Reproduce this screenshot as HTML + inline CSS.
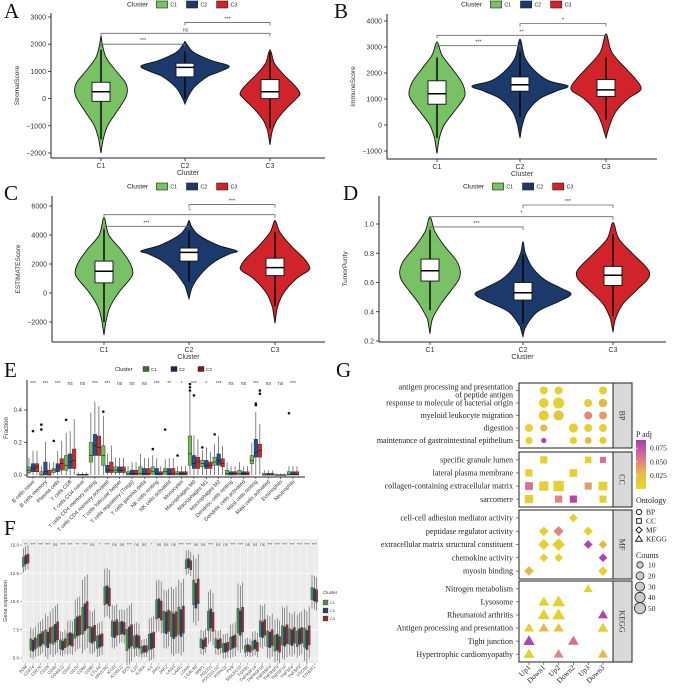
<!DOCTYPE html>
<html><head><meta charset="utf-8">
<style>
body{margin:0;background:#fff}
svg{display:block}
text{font-family:"Liberation Sans",sans-serif}
.serif{font-family:"Liberation Serif",serif}
</style></head>
<body>
<svg id="fig" width="676" height="693" viewBox="0 0 676 693"></svg>
<script>
// ---------- DATA ----------
const clusters=['C1','C2','C3'];
// Panel A StromalScore
const stromalVals=[[-2000,-1500,-1000,-500,0,300,600,1000,1500,2000,2300],[-200,0,400,800,1000,1200,1400,1700,2000,2100],[-1700,-1200,-800,-400,0,200,500,900,1300,1800]];
const stromalWidths=[[0,0.05,0.15,0.35,0.55,0.6,0.55,0.35,0.12,0.03,0],[0,0.05,0.2,0.5,0.8,1.0,0.6,0.2,0.04,0],[0,0.05,0.15,0.35,0.6,0.68,0.55,0.3,0.1,0]];
const stromalBox=[[-100,250,600,-1500,1800],[800,1150,1300,0,1750],[0,250,700,-1100,1700]];
const stromalSig=['***','ns','***'];
const stromalSigY=[2000,2400,2800];
// Panel B ImmuneScore
const immuneVals=[[-1100,-500,0,500,1000,1300,1700,2200,2700,3200],[-500,0,500,1000,1300,1500,1700,2100,2600,3300],[-500,0,500,1000,1300,1500,1800,2200,2800,3500]];
const immuneWidths=[[0,0.05,0.15,0.35,0.55,0.58,0.5,0.3,0.1,0],[0,0.05,0.15,0.4,0.75,1.0,0.6,0.3,0.1,0],[0,0.08,0.2,0.45,0.7,0.72,0.6,0.4,0.12,0]];
const immuneBox=[[800,1200,1700,-500,2600],[1300,1550,1850,300,2800],[1100,1350,1750,200,2600]];
const immuneSig=['***','**','*'];
const immuneSigY=[3050,3450,3900];
// Panel C ESTIMATEScore
const estimateVals=[[-2900,-2000,-1000,0,1000,1500,2200,3000,4000,5200],[-400,500,1500,2200,2700,2900,3300,4000,4600,5000],[-2100,-1000,0,1000,1500,1800,2400,3200,4200,5000]];
const estimateWidths=[[0,0.04,0.12,0.3,0.55,0.6,0.52,0.35,0.1,0],[0,0.08,0.3,0.55,0.85,1.0,0.6,0.2,0.05,0],[0,0.05,0.18,0.45,0.68,0.72,0.6,0.35,0.1,0]];
const estimateBox=[[700,1500,2200,-2000,4400],[2200,2800,3100,800,4300],[1200,1750,2400,-900,4200]];
const estimateSig=['***','*','***'];
const estimateSigY=[4600,5400,6100];
// Panel D TumorPurity
const purityVals=[[0.25,0.35,0.45,0.55,0.62,0.68,0.75,0.85,0.95,1.05],[0.23,0.3,0.4,0.47,0.52,0.56,0.62,0.7,0.8,0.88],[0.26,0.35,0.45,0.55,0.62,0.67,0.72,0.8,0.9,1.01]];
const purityWidths=[[0,0.05,0.22,0.45,0.6,0.63,0.55,0.3,0.1,0],[0,0.06,0.3,0.75,1.0,0.8,0.45,0.2,0.05,0],[0,0.05,0.2,0.5,0.72,0.76,0.65,0.4,0.12,0]];
const purityBox=[[0.61,0.68,0.76,0.41,0.96],[0.48,0.53,0.6,0.32,0.79],[0.58,0.65,0.71,0.37,0.93]];
const puritySig=['***','*','***'];
const puritySigY=[0.98,1.05,1.13];
// Panel E CIBERSORT fractions
const eCats=['B cells naive','B cells memory','Plasma cells','T cells CD8','T cells CD4 naive','T cells CD4 memory resting','T cells CD4 memory activated','T cells follicular helper','T cells regulatory (Tregs)','T cells gamma delta','NK cells resting','NK cells activated','Monocytes','Macrophages M0','Macrophages M1','Macrophages M2','Dendritic cells resting','Dendritic cells activated','Mast cells resting','Mast cells activated','Eosinophils','Neutrophils'];
const eSig=['***','***','***','ns','ns','***','***','ns','ns','ns','***','**','*','***','*','***','ns','ns','***','ns','ns','***'];
const eMedC1=[.03,.0,.03,.06,.0,.12,.12,.03,.01,.01,.02,.02,.01,.13,.07,.08,.01,.01,.09,.0,.0,.005];
const eMedC2=[.04,.02,.05,.08,.0,.18,.03,.03,.01,.01,.01,.01,.01,.07,.06,.09,.01,.01,.14,.0,.0,.005];
const eMedC3=[.05,.0,.07,.09,.0,.17,.03,.03,.01,.01,.01,.01,.01,.08,.06,.07,.01,.01,.15,.0,.0,.005];
const eQ1C1=[.015,0,.015,.03,0,.08,.06,.015,0,0,.005,.005,0,.06,.05,.06,0,0,.07,0,0,0];
const eQ1C2=[.02,0,.02,.04,0,.12,.015,.015,0,0,0,0,0,.04,.04,.06,0,0,.11,0,0,0];
const eQ1C3=[.02,0,.03,.04,0,.12,.015,.015,0,0,0,0,0,.04,.04,.05,0,0,.11,0,0,0];
const eQ3C1=[.05,.02,.04,.12,.005,.2,.18,.05,.02,.05,.05,.04,.02,.24,.09,.11,.03,.03,.12,.01,.002,.02];
const eQ3C2=[.07,.08,.07,.13,.005,.25,.06,.05,.03,.04,.04,.04,.02,.12,.09,.13,.02,.02,.22,.01,.002,.02];
const eQ3C3=[.07,.03,.1,.16,.005,.24,.08,.05,.03,.04,.02,.04,.02,.11,.08,.1,.02,.02,.19,.01,.002,.02];
const eOutCat=[1,1,3,6,11,13,13,13,13,14,15,18,18,18,18,21,0,2,10,12];
const eOutCl=[0,0,0,0,0,0,0,0,1,0,0,1,1,2,2,0,1,0,0,0];
const eOutVal=[.31,.28,.34,.39,.28,.56,.54,.52,.49,.17,.25,.43,.44,.52,.5,.38,.27,.21,.16,.12];
// Panel F gene expression
const fGenes=['B2M','CD274','CD276','CD28','CD40','CD40LG','CD47','CD70','CD80','CD86','CTLA4','HAVCR2','ICOS','ICOSLG','IDO1','IL10','IL2RA','IL6','JAK1','JAK2','LAG3','LAIR1','LDHA','LGALS9','NRP1','PDCD1','PDCD1LG2','PTPN11','PVR','SIGLEC15','TGFB1','TNFRSF14','TNFRSF18','TNFRSF4','TNFRSF9','TNFSF14','TNFSF4','TNFSF9','VTCN1','YTHDF1'];
const fSig=['**','***','***','***','ns','***','***','**','***','ns','*','***','ns','ns','***','ns','ns','*','ns','ns','ns','***','***','ns','ns','***','ns','ns','***','***','ns','ns','ns','***','***','***','***','***','***','***'];
const fMedC1=[13.5,6.2,6.5,6.8,7.0,6.2,6.6,7.6,8.3,7.1,6.4,10.5,7.6,7.6,6.6,6.4,5.7,6.4,9.3,8.2,8.0,8.3,13.3,10.8,6.3,8.3,6.3,5.9,6.3,8.3,5.8,6.1,7.6,6.7,6.3,7.0,6.9,6.7,6.8,10.7];
const fMedC2=[13.7,6.1,6.6,6.6,7.2,6.1,6.7,7.8,8.6,7.0,6.5,10.6,7.5,7.7,6.8,6.5,5.8,6.5,9.4,8.1,7.8,8.1,13.4,10.5,6.2,8.5,6.2,5.9,6.4,8.1,5.9,6.2,7.5,6.6,6.4,6.9,6.8,6.9,6.6,10.6];
const fMedC3=[13.8,6.3,6.8,7.0,7.4,6.3,6.6,7.9,8.8,7.2,6.6,10.4,7.7,7.6,7.0,6.4,5.8,6.6,9.2,8.3,8.0,8.4,13.2,10.9,6.4,8.2,6.3,6.0,6.5,8.4,5.8,6.0,7.7,6.8,6.2,7.1,7.0,7.0,7.0,10.5];
const fIqr=[0.4,0.5,0.55,0.7,0.8,0.4,0.55,0.85,1.2,0.7,0.55,0.8,0.7,0.55,0.95,0.55,0.3,0.7,0.85,0.95,1.1,1.2,0.4,1.1,0.4,0.85,0.4,0.4,0.55,1.1,0.3,0.4,0.7,0.7,0.7,0.85,0.7,0.7,0.85,0.55];
// Panel G enrichment
const gTerms=['antigen processing and presentation|of peptide antigen','response to molecule of bacterial origin','myeloid leukocyte migration','digestion','maintenance of gastrointestinal epithelium','specific granule lumen','lateral plasma membrane','collagen-containing extracellular matrix','sarcomere','cell-cell adhesion mediator activity','peptidase regulator activity','extracellular matrix structural constituent','chemokine activity','myosin binding','Nitrogen metabolism','Lysosome','Rheumatoid arthritis','Antigen processing and presentation','Tight junction','Hypertrophic cardiomyopathy'];
const gOnt=['BP','BP','BP','BP','BP','CC','CC','CC','CC','MF','MF','MF','MF','MF','KEGG','KEGG','KEGG','KEGG','KEGG','KEGG'];
const gCols=['Up1','Down1','Up2','Down2','Up3','Down3'];
const gDotRow=[0,0,0,1,1,1,1,2,2,2,2,3,3,3,3,3,4,4,4,4,4,5,5,5,6,6,7,7,7,7,7,8,8,8,8,9,10,10,10,11,11,11,11,12,12,12,13,13,14,15,15,16,16,16,17,17,17,17,18,18,19,19,19];
const gDotCol=[1,2,5,1,2,4,5,1,2,4,5,0,1,3,4,5,0,1,3,4,5,1,4,5,0,3,0,1,2,4,5,0,2,3,5,3,1,2,4,1,2,4,5,1,2,5,0,5,4,1,2,1,2,5,0,1,2,5,0,3,0,2,5];
const gDotCount=[20,20,20,35,50,20,25,40,40,20,20,20,15,30,20,20,15,5,15,12,15,20,15,12,20,25,25,40,55,20,35,30,20,20,20,15,20,25,20,30,45,15,15,15,15,15,20,20,15,25,40,35,40,20,20,20,20,25,30,25,25,20,20];
const gDotPadj=[.01,.01,.01,.01,.01,.015,.03,.01,.02,.05,.04,.01,.03,.01,.01,.01,.01,.085,.01,.03,.01,.01,.01,.06,.01,.01,.06,.01,.01,.04,.01,.01,.05,.085,.01,.01,.01,.05,.01,.01,.01,.085,.03,.01,.01,.085,.03,.01,.01,.01,.01,.01,.01,.085,.01,.03,.02,.01,.085,.06,.01,.05,.03];
const gLegendCounts=[10,20,30,40,50];
const gPadjTicks=[0.025,0.05,0.075];

// ---------- HELPERS ----------
const NS='http://www.w3.org/2000/svg';
const svg=document.getElementById('fig');
function mk(parent,tag,attrs,name){
  const el=document.createElementNS(NS,tag);
  for(const k in attrs) el.setAttribute(k,attrs[k]);
  
  
  parent.appendChild(el);return el;
}
function txt(parent,x,y,s,size,name,extra){
  const a=Object.assign({x:x,y:y,'font-size':size,fill:'#222'},extra||{});
  const t=mk(parent,'text',a,name);t.textContent=s;return t;
}
function lin(d0,d1,r0,r1){return v=>r0+(v-d0)*(r1-r0)/(d1-d0);}
function smooth(p){
  let d=`M${p[0][0]},${p[0][1]}`;
  for(let i=0;i<p.length-1;i++){
    const p0=p[i-1]||p[i],p1=p[i],p2=p[i+1],p3=p[i+2]||p[i+1];
    d+=` C${p1[0]+(p2[0]-p0[0])/6},${p1[1]+(p2[1]-p0[1])/6} ${p2[0]-(p3[0]-p1[0])/6},${p2[1]-(p3[1]-p1[1])/6} ${p2[0]},${p2[1]}`;
  }
  return d+'Z';
}
const vCol=['#78c165','#1b3a6b','#d1232a'];

function clusterLegend(x,y,sz,cols){
  const g=mk(svg,'g',{},'cluster-legend');
  txt(g,x,y+sz*0.8,'Cluster',sz*0.95,'legend-title');
  let cx=x+sz*4.2;
  for(let i=0;i<3;i++){
    mk(g,'rect',{x:cx,y:y,width:sz*1.6,height:sz,fill:cols[i],stroke:'#222','stroke-width':0.6},'legend-key-'+clusters[i]);
    txt(g,cx+sz*2,y+sz*0.8,clusters[i],sz*0.75,'legend-label-'+clusters[i]);
    cx+=sz*4.3;
  }
}

function violinPanel(cfg){
  const g=mk(svg,'g',{},cfg.name);
  const ys=lin(cfg.d0,cfg.d1,cfg.r0,cfg.r1);
  txt(g,cfg.letterX,cfg.letterY,cfg.letter,21,'panel-letter',{class:'serif',fill:'#111'});
  clusterLegend(cfg.legX,cfg.legY,7,vCol);
  mk(g,'line',{x1:cfg.ax,y1:cfg.top,x2:cfg.ax,y2:cfg.base,stroke:'#222','stroke-width':1},'y-axis');
  mk(g,'line',{x1:cfg.ax,y1:cfg.base,x2:cfg.xEnd,y2:cfg.base,stroke:'#222','stroke-width':1},'x-axis');
  cfg.ticks.forEach(t=>{
    const y=ys(t);
    mk(g,'line',{x1:cfg.ax-3,y1:y,x2:cfg.ax,y2:y,stroke:'#222','stroke-width':0.8},'y-tick');
    txt(g,cfg.ax-5,y+2.5,cfg.tickFmt(t),7,'y-tick-label',{'text-anchor':'end',fill:'#333'});
  });
  txt(g,0,0,cfg.ylab,6.5,'y-axis-title',{'text-anchor':'middle',transform:`translate(${cfg.ax-32},${(cfg.top+cfg.base)/2}) rotate(-90)`,fill:'#333'});
  clusters.forEach((c,i)=>{
    const x=cfg.cx[i];
    mk(g,'line',{x1:x,y1:cfg.base,x2:x,y2:cfg.base+3,stroke:'#222','stroke-width':0.8},'x-tick');
    txt(g,x,cfg.base+10,c,7,'x-tick-label',{'text-anchor':'middle',fill:'#333'});
    const vals=cfg.vals[i],w=cfg.widths[i];
    const right=vals.map((v,k)=>[x+w[k]*cfg.maxHalf,ys(v)]);
    const left=vals.map((v,k)=>[x-w[k]*cfg.maxHalf,ys(v)]).reverse().slice(1,-1);
    mk(g,'path',{d:smooth(right.concat(left)),fill:vCol[i],stroke:'#111','stroke-width':0.9},'violin-'+c);
    const b=cfg.box[i];
    mk(g,'line',{x1:x,y1:ys(b[3]),x2:x,y2:ys(b[4]),stroke:'#000','stroke-width':1.4},'whisker-'+c);
    mk(g,'rect',{x:x-9,y:ys(b[2]),width:18,height:ys(b[0])-ys(b[2]),fill:'#fff',stroke:'#111','stroke-width':0.9},'box-'+c);
    mk(g,'line',{x1:x-9,y1:ys(b[1]),x2:x+9,y2:ys(b[1]),stroke:'#000','stroke-width':1.5},'median-'+c);
  });
  txt(g,(cfg.ax+cfg.xEnd)/2,cfg.base+17,'Cluster',7,'x-axis-title',{'text-anchor':'middle',fill:'#333'});
  const pairs=[[0,1],[0,2],[1,2]];
  pairs.forEach((p,k)=>{
    const y=ys(cfg.sigY[k]),x1=cfg.cx[p[0]],x2=cfg.cx[p[1]];
    mk(g,'path',{d:`M${x1},${y+3}V${y}H${x2}V${y+3}`,fill:'none',stroke:'#666','stroke-width':0.8},'sig-bracket');
    txt(g,(x1+x2)/2,y-2,cfg.sig[k],5.5,'sig-label',{'text-anchor':'middle',fill:'#444'});
  });
}

violinPanel({name:'panel-a-stromal',letter:'A',letterX:4,letterY:18,legX:127,legY:1,ax:51,top:13,base:158,xEnd:325,d0:3000,d1:-2000,r0:17,r1:153,ticks:[3000,2000,1000,0,-1000,-2000],tickFmt:v=>String(v).replace('-','−'),ylab:'StromalScore',cx:[101,185,270],maxHalf:44,vals:stromalVals,widths:stromalWidths,box:stromalBox,sig:stromalSig,sigY:stromalSigY});
violinPanel({name:'panel-b-immune',letter:'B',letterX:334,letterY:18,legX:461,legY:1,ax:387,top:14,base:159,xEnd:657,d0:4000,d1:-1000,r0:21,r1:151,ticks:[4000,3000,2000,1000,0,-1000],tickFmt:v=>String(v).replace('-','−'),ylab:'ImmuneScore',cx:[437,520,606],maxHalf:48,vals:immuneVals,widths:immuneWidths,box:immuneBox,sig:immuneSig,sigY:immuneSigY});
violinPanel({name:'panel-c-estimate',letter:'C',letterX:4,letterY:200,legX:127,legY:183,ax:52,top:196,base:342,xEnd:325,d0:6000,d1:-2000,r0:206,r1:322,ticks:[6000,4000,2000,0,-2000],tickFmt:v=>String(v).replace('-','−'),ylab:'ESTIMATEScore',cx:[104,189,275],maxHalf:48,vals:estimateVals,widths:estimateWidths,box:estimateBox,sig:estimateSig,sigY:estimateSigY});
violinPanel({name:'panel-d-purity',letter:'D',letterX:343,letterY:200,legX:463,legY:183,ax:379,top:196,base:342,xEnd:666,d0:1.0,d1:0.2,r0:224,r1:341,ticks:[1.0,0.8,0.6,0.4,0.2],tickFmt:v=>v.toFixed(1),ylab:'TumorPurity',cx:[430,523,613],maxHalf:48,vals:purityVals,widths:purityWidths,box:purityBox,sig:puritySig,sigY:puritySigY});

// ---------- Panel E ----------
(function(){
  const g=mk(svg,'g',{},'panel-e-immune-fraction');
  txt(g,4,377,'E',21,'panel-letter',{class:'serif',fill:'#111'});
  const eCol=['#6ebd5a','#24508f','#d42a2a'];
  txt(g,115,371,'Cluster',5.5,'legend-title');
  [143,171,198].forEach((x,i)=>{
    mk(g,'rect',{x:x,y:366.5,width:6,height:5,fill:['#3c6e32','#1b2a4a','#7b1a1a'][i],stroke:'#222','stroke-width':0.4},'legend-key-'+clusters[i]);
    txt(g,x+8,371,clusters[i],4.5,'legend-label-'+clusters[i]);
  });
  const ys=lin(0,0.4,475,410);
  const xs=i=>33+i*12.38;
  mk(g,'line',{x1:27,y1:380,x2:27,y2:477,stroke:'#222','stroke-width':1},'y-axis');
  mk(g,'line',{x1:27,y1:477,x2:305,y2:477,stroke:'#222','stroke-width':1},'x-axis');
  [0,0.2,0.4].forEach(t=>{
    mk(g,'line',{x1:24,y1:ys(t),x2:27,y2:ys(t),stroke:'#222','stroke-width':0.7},'y-tick');
    txt(g,22,ys(t)+2,t.toFixed(1),6,'y-tick-label',{'text-anchor':'end',fill:'#333'});
  });
  txt(g,0,0,'Fraction',6,'y-axis-title',{'text-anchor':'middle',transform:'translate(8,428) rotate(-90)',fill:'#333'});
  const med=[eMedC1,eMedC2,eMedC3],q1=[eQ1C1,eQ1C2,eQ1C3],q3=[eQ3C1,eQ3C2,eQ3C3];
  eCats.forEach((c,i)=>{
    const x0=xs(i);
    txt(g,x0,385,eSig[i],5,'sig-label',{'text-anchor':'middle',fill:'#444'});
    for(let k=0;k<3;k++){
      const x=x0+(k-1)*4,iqr=q3[k][i]-q1[k][i];
      const hi=q3[k][i]+1.5*iqr+0.004;
      mk(g,'line',{x1:x,y1:ys(0),x2:x,y2:ys(hi),stroke:'#333','stroke-width':0.6},'whisker');
      mk(g,'rect',{x:x-1.8,y:ys(q3[k][i]),width:3.6,height:Math.max(0.8,ys(q1[k][i])-ys(q3[k][i])),fill:eCol[k],stroke:'#222','stroke-width':0.4},'box-'+clusters[k]);
      mk(g,'line',{x1:x-1.8,y1:ys(med[k][i]),x2:x+1.8,y2:ys(med[k][i]),stroke:'#111','stroke-width':0.6},'median');
    }
    mk(g,'line',{x1:x0,y1:477,x2:x0,y2:479,stroke:'#222','stroke-width':0.6},'x-tick');
    txt(g,0,0,c,5.3,'x-tick-label',{'text-anchor':'end',transform:`translate(${x0+2},${482}) rotate(-45)`,fill:'#333'});
  });
  eOutCat.forEach((ci,j)=>{
    mk(g,'circle',{cx:xs(ci)+(eOutCl[j]-1)*4,cy:ys(eOutVal[j]),r:1.3,fill:'#111'},'outlier');
  });
})();

// ---------- Panel F ----------
(function(){
  const g=mk(svg,'g',{},'panel-f-gene-expression');
  txt(g,4,535,'F',21,'panel-letter',{class:'serif',fill:'#111'});
  const fCol=['#4e8a48','#2a3f6a','#8e2f2f'];
  mk(g,'rect',{x:22,y:539,width:296,height:124,fill:'#ebebeb'},'plot-background');
  const ys=lin(15,5,545,658);
  const step=296/fGenes.length;
  const xs=i=>22+step*(i+0.5);
  [5,7.5,10,12.5,15].forEach(t=>{
    mk(g,'line',{x1:22,y1:ys(t),x2:318,y2:ys(t),stroke:'#fff','stroke-width':0.7},'gridline');
    mk(g,'line',{x1:20,y1:ys(t),x2:22,y2:ys(t),stroke:'#444','stroke-width':0.5},'y-tick');
    txt(g,19,ys(t)+1.5,t.toFixed(1),4.5,'y-tick-label',{'text-anchor':'end',fill:'#444'});
  });
  txt(g,0,0,'Gene expression',5.5,'y-axis-title',{'text-anchor':'middle',transform:'translate(7,601) rotate(-90)',fill:'#333'});
  const med=[fMedC1,fMedC2,fMedC3];
  fGenes.forEach((gn,i)=>{
    const x0=xs(i);
    mk(g,'line',{x1:x0,y1:539,x2:x0,y2:663,stroke:'#fff','stroke-width':0.5},'gridline');
  });
  fGenes.forEach((gn,i)=>{
    const x0=xs(i);
    txt(g,x0,546,fSig[i],4.3,'sig-label',{'text-anchor':'middle',fill:'#444'});
    for(let k=0;k<3;k++){
      const x=x0+(k-1)*2.3,m=med[k][i],h=fIqr[i];
      mk(g,'line',{x1:x,y1:ys(m+h*3),x2:x,y2:ys(m-h*2.4),stroke:'#555','stroke-width':0.6},'whisker');
      mk(g,'rect',{x:x-1.1,y:ys(m+h),width:2.2,height:ys(m-h)-ys(m+h),fill:fCol[k],stroke:'#333','stroke-width':0.3},'box-'+clusters[k]);
    }
    mk(g,'line',{x1:x0,y1:663,x2:x0,y2:665,stroke:'#444','stroke-width':0.4},'x-tick');
    txt(g,0,0,gn,4.3,'x-tick-label',{'text-anchor':'end',transform:`translate(${x0+1.5},${667}) rotate(-45)`,fill:'#444'});
  });
  txt(g,323,594,'Cluster',4.5,'legend-title',{fill:'#333'});
  [600,608,616].forEach((y,i)=>{
    mk(g,'rect',{x:323,y:y,width:5,height:5,fill:fCol[i],stroke:'#333','stroke-width':0.3},'legend-key-'+clusters[i]);
    txt(g,330,y+4,clusters[i],3.8,'legend-label-'+clusters[i],{fill:'#333'});
  });
})();

// ---------- Panel G ----------
(function(){
  const g=mk(svg,'g',{},'panel-g-enrichment');
  txt(g,336,377,'G',21,'panel-letter',{class:'serif',fill:'#111'});
  const facets=['BP','CC','MF','KEGG'];
  const fBox=[[383,448],[452,507],[510,579],[581,662]];
  const colX=i=>529+i*14.8;
  const rowY=[];
  facets.forEach((f,fi)=>{
    const rows=[];gOnt.forEach((o,r)=>{if(o===f)rows.push(r);});
    const s=(fBox[fi][1]-fBox[fi][0])/(rows.length-1+1.2);
    rows.forEach((r,j)=>rowY[r]=fBox[fi][0]+0.6*s+j*s);
    mk(g,'rect',{x:519,y:fBox[fi][0],width:94,height:fBox[fi][1]-fBox[fi][0],fill:'#fff',stroke:'#222','stroke-width':1},'facet-panel-'+f);
    mk(g,'rect',{x:613,y:fBox[fi][0],width:19,height:fBox[fi][1]-fBox[fi][0],fill:'#d9d9d9',stroke:'#222','stroke-width':1},'facet-strip-'+f);
    const cy=(fBox[fi][0]+fBox[fi][1])/2;
    txt(g,0,0,f,8,'facet-label-'+f,{class:'serif','text-anchor':'middle',transform:`translate(${619.5},${cy}) rotate(90)`,fill:'#333'});
  });
  gTerms.forEach((t,r)=>{
    const y=rowY[r];
    mk(g,'line',{x1:516,y1:y,x2:519,y2:y,stroke:'#333','stroke-width':0.6},'y-tick');
    const parts=t.split('|');
    if(parts.length>1){
      txt(g,513,y-1,parts[0],8,'term-label',{class:'serif','text-anchor':'end',fill:'#222'});
      txt(g,513,y+7,parts[1],8,'term-label',{class:'serif','text-anchor':'end',fill:'#222'});
    } else txt(g,513,y+2.7,t,8,'term-label',{class:'serif','text-anchor':'end',fill:'#222'});
  });
  gCols.forEach((c,i)=>{
    mk(g,'line',{x1:colX(i),y1:662,x2:colX(i),y2:665,stroke:'#333','stroke-width':0.6},'x-tick');
    txt(g,0,0,c,7.5,'x-tick-label',{class:'serif','text-anchor':'end',transform:`translate(${colX(i)+2},${668}) rotate(-45)`,fill:'#222'});
  });
  const stops=[[0,[228,220,40]],[0.03,[228,185,70]],[0.055,[224,120,140]],[0.09,[168,60,180]]];
  function pcol(p){
    if(p<=stops[0][0])return `rgb(${stops[0][1]})`;
    for(let i=0;i<stops.length-1;i++){
      if(p<=stops[i+1][0]){const f=(p-stops[i][0])/(stops[i+1][0]-stops[i][0]);
        const c=stops[i][1].map((v,k)=>Math.round(v+(stops[i+1][1][k]-v)*f));return `rgb(${c})`;}
    }
    return `rgb(${stops[stops.length-1][1]})`;
  }
  const rad=c=>1.3+Math.sqrt(c)*0.6;
  function shape(parent,ont,x,y,r,fill,stroke,name){
    if(ont==='BP') return mk(parent,'circle',{cx:x,cy:y,r:r,fill:fill,stroke:stroke,'stroke-width':stroke==='none'?0:1},name);
    if(ont==='CC') return mk(parent,'rect',{x:x-r*0.9,y:y-r*0.9,width:r*1.8,height:r*1.8,fill:fill,stroke:stroke,'stroke-width':stroke==='none'?0:1},name);
    if(ont==='MF'){const q=r*1.2;return mk(parent,'path',{d:`M${x},${y-q}L${x+q},${y}L${x},${y+q}L${x-q},${y}Z`,fill:fill,stroke:stroke,'stroke-width':stroke==='none'?0:1},name);}
    const q=r*1.15;return mk(parent,'path',{d:`M${x},${y-q*1.1}L${x+q*1.1},${y+q*0.75}L${x-q*1.1},${y+q*0.75}Z`,fill:fill,stroke:stroke,'stroke-width':stroke==='none'?0:1},name);
  }
  gDotRow.forEach((r,j)=>{
    shape(g,gOnt[r],colX(gDotCol[j]),rowY[r],rad(gDotCount[j]),pcol(gDotPadj[j]),'none','enrichment-dot');
  });
  txt(g,636,437,'P adj',8,'colorbar-title',{class:'serif',fill:'#222'});
  const defs=mk(g,'defs',{},'defs');
  const lg=mk(defs,'linearGradient',{id:'padjgrad',x1:0,y1:1,x2:0,y2:0},'padj-gradient');
  stops.forEach(s=>mk(lg,'stop',{offset:s[0]/0.09,'stop-color':`rgb(${s[1]})`},'gradient-stop'));
  const cb=lin(0,0.09,489,440);
  mk(g,'rect',{x:636,y:440,width:10,height:49,fill:'url(#padjgrad)'},'colorbar');
  gPadjTicks.forEach(t=>{
    mk(g,'line',{x1:636,y1:cb(t),x2:638,y2:cb(t),stroke:'#fff','stroke-width':0.6},'colorbar-tick');
    txt(g,650,cb(t)+2.5,t.toFixed(3),7.5,'colorbar-label',{class:'serif',fill:'#222'});
  });
  txt(g,636,503,'Ontology',8,'ontology-legend-title',{class:'serif',fill:'#222'});
  ['BP','CC','MF','KEGG'].forEach((o,i)=>{
    const y=512+i*9;
    shape(g,o,639,y,2.6,'none','#222','ontology-key-'+o);
    txt(g,646,y+2.7,o,7.5,'ontology-label-'+o,{class:'serif',fill:'#222'});
  });
  txt(g,636,558,'Counts',8,'counts-legend-title',{class:'serif',fill:'#222'});
  gLegendCounts.forEach((c,i)=>{
    const y=565+i*10.8;
    mk(g,'circle',{cx:640,cy:y,r:rad(c),fill:'#ccc',stroke:'#222','stroke-width':0.8},'counts-key');
    txt(g,648,y+2.7,String(c),7.5,'counts-label',{class:'serif',fill:'#222'});
  });
})();
</script>
</body></html>
